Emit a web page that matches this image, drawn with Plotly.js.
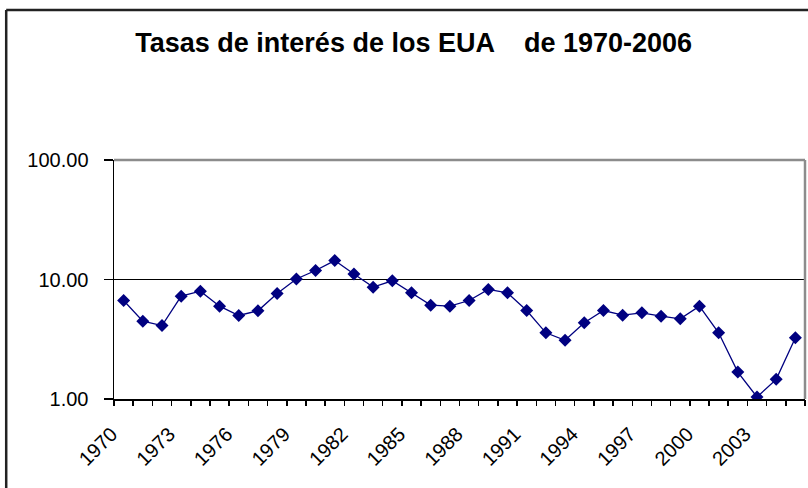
<!DOCTYPE html>
<html>
<head>
<meta charset="utf-8">
<script src="https://cdn.plot.ly/plotly-3.0.1.min.js"></script>
<style>html,body{margin:0;padding:0;background:#fff;}#chart{width:808px;height:488px;}</style>
</head>
<body>
<div id="chart"></div>
<script>
// Categories (years)
var years = [1970, 1971, 1972, 1973, 1974, 1975, 1976, 1977, 1978, 1979,
             1980, 1981, 1982, 1983, 1984, 1985, 1986, 1987, 1988, 1989,
             1990, 1991, 1992, 1993, 1994, 1995, 1996, 1997, 1998, 1999,
             2000, 2001, 2002, 2003, 2004, 2005];
// Series values (interest rate, %)
var rates = [6.67, 4.48, 4.12, 7.25, 7.98, 5.98, 5.00, 5.47, 7.64, 10.10,
             11.90, 14.40, 11.10, 8.63, 9.75, 7.74, 6.10, 5.98, 6.67, 8.25,
             7.74, 5.50, 3.58, 3.10, 4.34, 5.50, 5.03, 5.26, 4.93, 4.69,
             5.98, 3.58, 1.68, 1.04, 1.46, 3.25];
// Tick labels
var xLabelYears = [1970, 1973, 1976, 1979, 1982, 1985, 1988, 1991, 1994, 1997, 2000, 2003];
var yTickVals = [1, 10, 100];
var yTickText = ["1.00", "10.00", "100.00"];
var titleText = "Tasas de interés de los EUA \u00a0\u00a0 de 1970-2006";

var first = years[0] - 0.5, last = years[years.length - 1] + 0.5;
var boundaries = [first].concat(years.map(function (y) { return y + 0.5; }));

var font = "Arial, 'Liberation Sans', sans-serif";

var data = [
  {
    x: years, y: rates, type: "scatter", mode: "lines+markers",
    line: {color: "#000080", width: 1.3},
    marker: {symbol: "diamond", size: 10, color: "#000080"},
    hoverinfo: "x+y", showlegend: false
  },
  {
    x: [first, last], y: [1, 1], xaxis: "x2", yaxis: "y",
    type: "scatter", mode: "none", hoverinfo: "skip", showlegend: false
  }
];

var layout = {
  width: 808, height: 488,
  paper_bgcolor: "#ffffff", plot_bgcolor: "#ffffff",
  margin: {l: 114, r: 3, t: 160, b: 89, pad: 0},
  title: {
    text: titleText,
    font: {family: "Arial, 'Liberation Sans', sans-serif", size: 27, color: "#000", weight: "bold"},
    x: 0.512, xanchor: "center", y: 0.912, yanchor: "middle"
  },
  xaxis: {
    type: "linear", range: [first, last],
    tickmode: "array", tickvals: xLabelYears, ticktext: xLabelYears.map(String),
    tickangle: -45, ticks: "", ticklabelstandoff: 14, ticklabelshift: -12,
    tickfont: {family: font, size: 20, color: "#000"},
    showgrid: false, zeroline: false,
    showline: true, linecolor: "#000", linewidth: 1.5,
    fixedrange: true
  },
  xaxis2: {
    overlaying: "x", anchor: "y", side: "bottom",
    type: "linear", range: [first, last],
    tickmode: "array", tickvals: boundaries, showticklabels: false,
    ticks: "outside", ticklen: 6, tickwidth: 1.5, tickcolor: "#000",
    showgrid: false, zeroline: false, showline: false, fixedrange: true
  },
  yaxis: {
    type: "log", range: [0, 2],
    tickmode: "array", tickvals: yTickVals, ticktext: yTickText,
    ticks: "outside", ticklen: 9, tickwidth: 1.5, tickcolor: "#000",
    ticklabelstandoff: 11,
    tickfont: {family: font, size: 20, color: "#000"},
    showgrid: true, gridcolor: "#000", gridwidth: 1.5,
    zeroline: false, showline: true, linecolor: "#000", linewidth: 1.5,
    fixedrange: true
  },
  shapes: [
    // plot area border (top and right), grey
    {type: "line", xref: "paper", yref: "paper", x0: 0, x1: 1, y0: 1, y1: 1,
     line: {color: "#8c8c8c", width: 2.5}},
    {type: "line", xref: "paper", yref: "paper", x0: 1, x1: 1, y0: 0, y1: 1,
     line: {color: "#8c8c8c", width: 2.5}},
    // outer chart frame (left and top)
    {type: "line", xref: "paper", yref: "paper", x0: -0.156, x1: 1.2, y0: 1.628, y1: 1.628,
     line: {color: "#222", width: 2.5}},
    {type: "line", xref: "paper", yref: "paper", x0: -0.156, x1: -0.156, y0: 1.628, y1: -0.6,
     line: {color: "#222", width: 2.5}}
  ]
};

Plotly.newPlot("chart", data, layout, {displayModeBar: false, staticPlot: true});
</script>
</body>
</html>
